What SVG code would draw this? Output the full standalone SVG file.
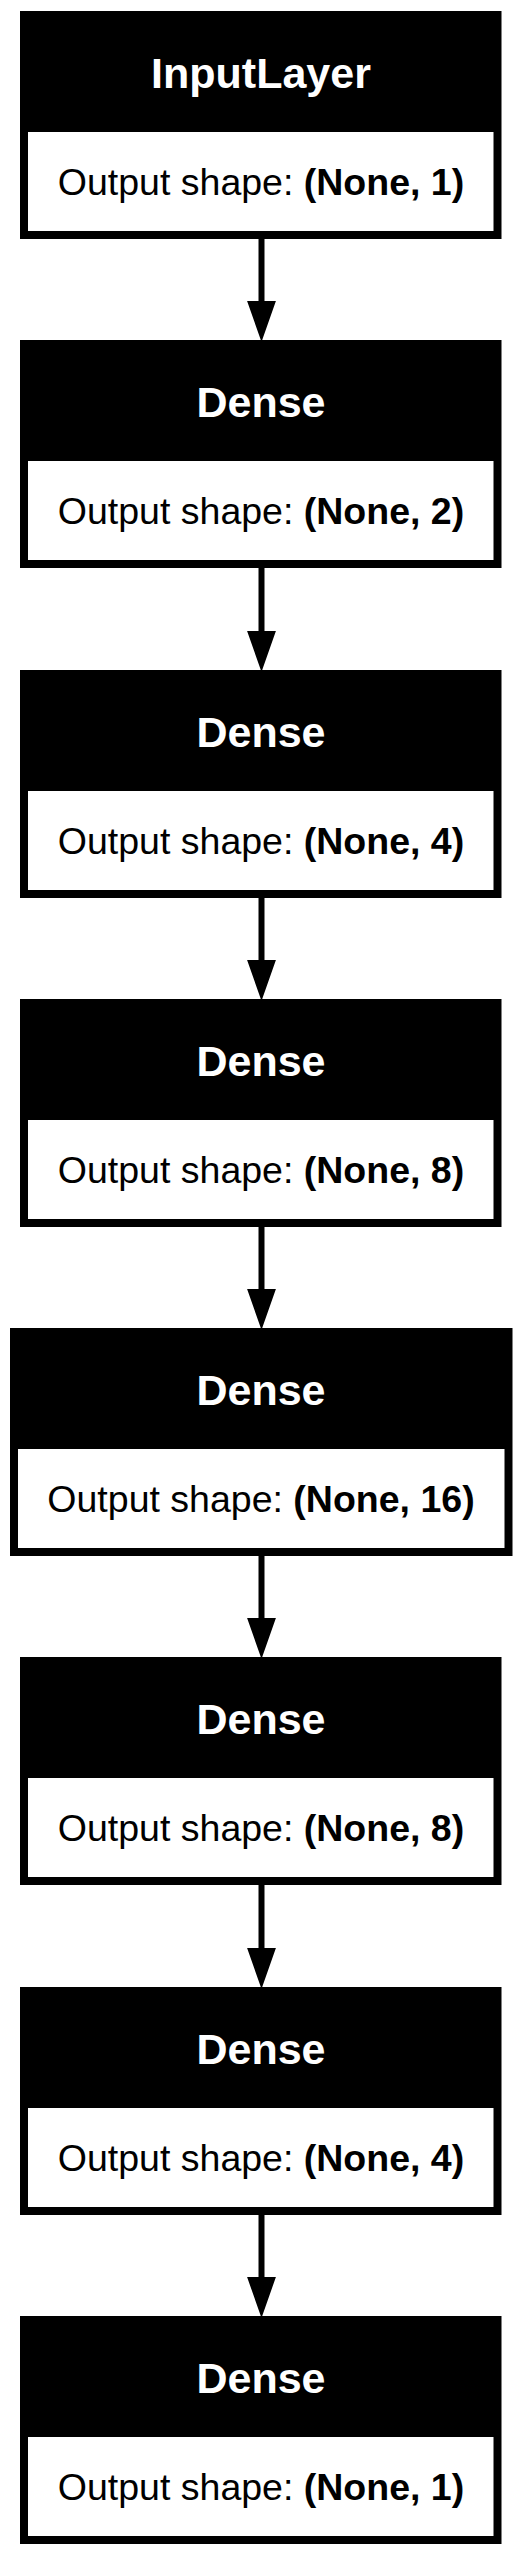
<svg xmlns="http://www.w3.org/2000/svg" width="524" height="2556" viewBox="0 0 524 2556">
<style>
.bg{fill:#ffffff}
.box{fill:#000000}
.body{fill:#ffffff}
.title{font-family:"Liberation Sans",Arial,Helvetica,sans-serif;font-weight:bold;font-size:43px;fill:#ffffff;text-anchor:middle}
.sub{font-family:"Liberation Sans",Arial,Helvetica,sans-serif;font-size:37.5px;fill:#000000;text-anchor:middle}
.b{font-weight:bold}
.edge{stroke:#000000;stroke-width:6;fill:none}
.head{fill:#000000;stroke:#000000;stroke-width:2}
</style>
<rect class="bg" x="0" y="0" width="524" height="2556"/>
<g id="connectors">
<line class="edge" x1="261.5" y1="239" x2="261.5" y2="303"/><polygon class="head" points="248.5,302 274.5,302 261.5,339"/>
<line class="edge" x1="261.5" y1="568" x2="261.5" y2="633"/><polygon class="head" points="248.5,632 274.5,632 261.5,669"/>
<line class="edge" x1="261.5" y1="898" x2="261.5" y2="962"/><polygon class="head" points="248.5,961 274.5,961 261.5,998"/>
<line class="edge" x1="261.5" y1="1227" x2="261.5" y2="1291"/><polygon class="head" points="248.5,1290 274.5,1290 261.5,1327"/>
<line class="edge" x1="261.5" y1="1556" x2="261.5" y2="1620"/><polygon class="head" points="248.5,1619 274.5,1619 261.5,1656"/>
<line class="edge" x1="261.5" y1="1885" x2="261.5" y2="1950"/><polygon class="head" points="248.5,1949 274.5,1949 261.5,1986"/>
<line class="edge" x1="261.5" y1="2215" x2="261.5" y2="2279"/><polygon class="head" points="248.5,2278 274.5,2278 261.5,2315"/>
</g>
<g id="node0">
<rect class="box" x="20" y="11" width="481.5" height="228"/>
<rect class="body" x="28" y="132" width="465.5" height="99"/>
<text class="title" x="261" y="88">InputLayer</text>
<text class="sub" x="261" y="195">Output shape: <tspan class="b">(None, 1)</tspan></text>
</g>
<g id="node1">
<rect class="box" x="20" y="340" width="481.5" height="228"/>
<rect class="body" x="28" y="461" width="465.5" height="99"/>
<text class="title" x="261" y="417">Dense</text>
<text class="sub" x="261" y="524">Output shape: <tspan class="b">(None, 2)</tspan></text>
</g>
<g id="node2">
<rect class="box" x="20" y="670" width="481.5" height="228"/>
<rect class="body" x="28" y="791" width="465.5" height="99"/>
<text class="title" x="261" y="747">Dense</text>
<text class="sub" x="261" y="854">Output shape: <tspan class="b">(None, 4)</tspan></text>
</g>
<g id="node3">
<rect class="box" x="20" y="999" width="481.5" height="228"/>
<rect class="body" x="28" y="1120" width="465.5" height="99"/>
<text class="title" x="261" y="1076">Dense</text>
<text class="sub" x="261" y="1183">Output shape: <tspan class="b">(None, 8)</tspan></text>
</g>
<g id="node4">
<rect class="box" x="10" y="1328" width="502.5" height="228"/>
<rect class="body" x="18" y="1449" width="486.5" height="99"/>
<text class="title" x="261" y="1405">Dense</text>
<text class="sub" x="261" y="1512">Output shape: <tspan class="b">(None, 16)</tspan></text>
</g>
<g id="node5">
<rect class="box" x="20" y="1657" width="481.5" height="228"/>
<rect class="body" x="28" y="1778" width="465.5" height="99"/>
<text class="title" x="261" y="1734">Dense</text>
<text class="sub" x="261" y="1841">Output shape: <tspan class="b">(None, 8)</tspan></text>
</g>
<g id="node6">
<rect class="box" x="20" y="1987" width="481.5" height="228"/>
<rect class="body" x="28" y="2108" width="465.5" height="99"/>
<text class="title" x="261" y="2064">Dense</text>
<text class="sub" x="261" y="2171">Output shape: <tspan class="b">(None, 4)</tspan></text>
</g>
<g id="node7">
<rect class="box" x="20" y="2316" width="481.5" height="228"/>
<rect class="body" x="28" y="2437" width="465.5" height="99"/>
<text class="title" x="261" y="2393">Dense</text>
<text class="sub" x="261" y="2500">Output shape: <tspan class="b">(None, 1)</tspan></text>
</g>
</svg>
